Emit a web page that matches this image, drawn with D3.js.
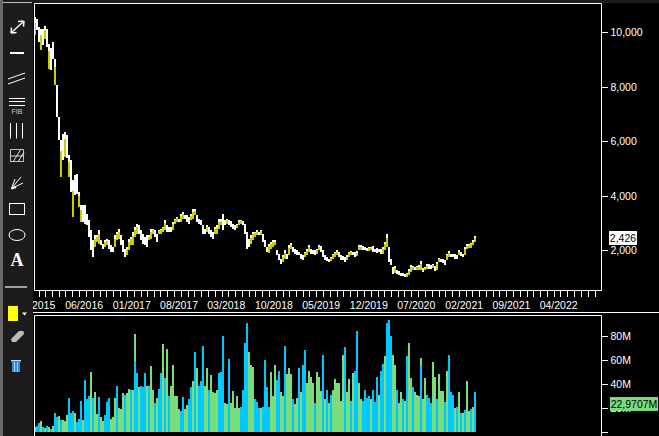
<!DOCTYPE html>
<html><head><meta charset="utf-8">
<style>html,body{margin:0;padding:0;background:#000;overflow:hidden}svg{display:block}text{font-family:"Liberation Sans",Arial,sans-serif}</style>
<script src="https://cdn.jsdelivr.net/npm/d3@7"></script>
</head><body><svg id="c" width="659" height="436"></svg>
<script>
const priceHigh=[
10560,10500,10200,10135,10135,10220,10135,9585,9440,9650,9035,8055,6895,6040,6280,6340,6220,
5485,5300,4570,4750,4815,4140,3650,3650,3650,3345,3100,2735,2370,2550,2550,2735,2370,2245,2370,2430,2370,2185,2125,
2550,2675,2795,2550,2370,2060,2125,2430,2490,2675,2855,2980,2920,2735,2610,2490,2550,2550,2795,2795,2735,2610,2735,
2795,2855,3100,2920,2855,2855,3040,3165,3225,3165,3345,3410,3285,3285,3225,3345,3530,3530,3285,3165,3100,2920,2795,
2920,2855,2735,2675,2855,2920,3165,
3160,3320,3100,3160,3100,3077,2980,2920,2980,3100,3125,3077,2980,2675,2430,2550,2675,2675,2735,2675,2760,2610,2370,
2125,2245,2305,2370,2370,2000,1880,1695,1820,2000,1880,2185,2270,2125,2060,2025,1940,1880,1820,1940,2060,2185,2060,
2000,2000,2060,2185,2147,2000,1820,1755,1695,1755,1880,1940,2000,1940,1820,1780,1755,1820,1940,1965,1940,1940,1965,
2185,2185,2147,2125,2100,2125,2125,2147,2060,2100,2060,2060,2125,2305,2610,2125,1695,1390,1415,1290,1240,1170,1170,
1145,1170,1330,1450,1415,1390,1415,1450,1610,1365,1390,1487,1487,1450,1487,1415,1575,1730,
1695,1695,1660,1880,1975,1880,1855,1855,1820,2000,1940,1880,2125,2220,2220,2270,2370,2515];
const priceLow=[
9890,10070,9650,9340,9525,9770,9460,8670,8600,9035,8055,6895,6040,4690,5305,5430,5370,
4690,4140,3225,4020,4080,3590,3040,3040,2980,2920,2490,2000,1755,2125,2305,2245,2185,2060,2125,2185,2060,1940,1940,
2125,2370,2430,2185,1940,1755,1820,2000,2185,2185,2490,2610,2610,2370,2245,2185,2125,2370,2430,2610,2490,2305,2610,
2610,2675,2735,2675,2675,2675,2735,2980,3040,3040,3040,3165,3165,3040,2980,3100,3165,3285,3040,2980,2920,2610,2610,
2675,2610,2490,2430,2610,2610,2795,
2920,2760,2920,2980,2920,2857,2795,2760,2830,2920,2980,2920,2610,2060,2125,2245,2370,2490,2550,2550,2550,2305,2125,
1940,1900,2060,2125,2185,1820,1635,1487,1575,1695,1695,1820,2060,1940,1880,1820,1820,1695,1635,1755,1820,1940,1880,
1880,1820,1880,2000,1940,1755,1635,1610,1575,1610,1695,1755,1820,1755,1635,1660,1575,1635,1755,1820,1820,1755,1780,
2000,2025,2025,2000,1965,1975,2000,1940,1940,1900,1940,1880,1880,2000,2125,1575,1450,1120,1170,1145,1080,1045,1045,
1020,1020,1080,1205,1290,1265,1290,1290,1290,1205,1265,1330,1330,1330,1365,1240,1265,1575,
1575,1535,1450,1660,1755,1755,1755,1695,1695,1820,1780,1755,1820,2060,2100,2100,2185,2305];
const earlyYellowBars=[0,3,5,7,10,13,15,17,19,22,23];
const greenVol=[
4,0,0,9,0,3,0,4,0,5, 0,0,13,0,10,9,14,0,0,0, 16,0,0,0,10,0,21,0,50,0, 33,15,0,12,9,0,0,0,11,12,
28,0,20,19,32,0,32,36,0,35, 82,0,37,0,0,0,38,0,55,35, 0,28,0,0,73,0,69,0,38,56, 30,30,19,0,0,19,22,0,0,42,
0,53,0,0,56,38,53,0,47,33, 32,35,0,
0,0,24,23,0,24,34,20,30,20, 0,0,0,0,67,56,54,0,0,0, 20,0,0,0,0,50,30,56,0,0, 33,30,0,48,53,48,0,23,28,0,
33,0,59,41,51,46,41,0,50,46, 34,0,27,0,24,0,35,44,41,41, 26,64,0,33,44,0,49,0,0,41, 27,0,0,0,0,27,0,0,0,31,
0,0,63,0,0,0,64,56,0,24, 33,0,26,0,74,45,0,33,31,30, 62,27,45,0,0,0,58,46,0,48,
34,34,0,51,0,0,0,20,0,33,0,16,0,42,17,0,21,23];
const blueVol=[
0,5,7,0,4,0,5,0,2,0, 16,12,0,10,0,0,0,28,16,17, 0,8,11,26,0,43,27,30,0,28, 0,0,29,0,0,14,25,28,0,0,
0,38,0,0,0,31,0,0,35,0, 59,49,0,38,37,49,0,38,0,0, 24,0,36,49,0,45,0,30,0,0, 0,0,0,17,29,0,0,27,37,0,
67,0,38,42,72,0,0,35,0,0, 0,0,49,
50,80,0,0,61,0,0,0,0,0, 21,35,74,91,0,0,0,27,25,20, 0,21,60,37,21,0,0,0,43,51, 0,0,72,0,0,0,27,0,0,53,
0,56,68,0,0,0,0,24,0,0, 0,64,0,35,0,31,0,0,0,0, 0,0,71,0,0,26,0,51,84,0, 0,26,35,28,30,0,35,25,46,0,
51,57,0,91,93,80,0,0,35,0, 0,27,0,63,0,0,37,0,0,0, 56,0,0,31,28,24,0,0,27,0,
0,0,25,0,64,33,31,0,21,0,16,0,18,0,0,19,0,33];
const priceTicks=[2000,4000,6000,8000,10000];
const volumeTicks=[0,20,40,60,80];
const monthStart="2015-11-01", monthEnd="2022-09-01";
const lastPrice="2,426", lastVolume="22,9707M";

const svg=d3.select("#c");
const L=34.5,R=601.5,T=3.5,B=290.5,VT=315.5;
svg.append("rect").attr("width",659).attr("height",436).attr("fill","#000");
svg.append("rect").attr("width",659).attr("height",3).attr("fill","#1c1c1c");

const idx=d3.range(priceHigh.length);
const xBand=d3.scaleBand().domain(idx).range([34.3,34.3+2*idx.length]);
const yP=d3.scaleLinear().domain([2000,10000]).range([250.3,32.3]);
const yV=d3.scaleLinear().domain([0,80]).range([431.7,336]);
const parse=d3.utcParse("%Y-%m-%d");
const xT=d3.scaleUtc().domain([parse(monthStart),parse(monthEnd)]).range([38.5,594.5]);
const months=d3.utcMonth.range(parse(monthStart),d3.utcMonth.offset(parse(monthEnd),1));

// candles: a yellow bar on rising weeks, white otherwise, with a white cap on the yellow ones
const mid=i=>(priceHigh[i]+priceLow[i])/2;
const isYellow=i=>i<24?earlyYellowBars.includes(i):mid(i)>mid(i-1);
const pri=svg.append("g").attr("shape-rendering","crispEdges");
pri.selectAll("rect.body").data(idx).join("rect").attr("class","body")
  .attr("x",i=>xBand(i)).attr("width",xBand.bandwidth())
  .attr("y",i=>yP(priceHigh[i])).attr("height",i=>Math.max(1,yP(priceLow[i])-yP(priceHigh[i])))
  .attr("fill",i=>isYellow(i)?"#cccc00":"#fff");
pri.selectAll("rect.cap").data(idx.filter(isYellow)).join("rect").attr("class","cap")
  .attr("x",i=>xBand(i)).attr("width",xBand.bandwidth())
  .attr("y",i=>yP(priceHigh[i])).attr("height",i=>(yP(priceLow[i])-yP(priceHigh[i]))*0.3)
  .attr("fill","#fff");

// volume
const vol=svg.append("g").attr("shape-rendering","crispEdges");
const drawVol=(arr,col)=>vol.append("g").selectAll("rect").data(idx.filter(i=>arr[i]>0)).join("rect")
  .attr("x",i=>xBand(i)).attr("width",xBand.bandwidth())
  .attr("y",i=>yV(arr[i])).attr("height",i=>yV(0)-yV(arr[i])).attr("fill",col);
drawVol(greenVol,"#7bdc7b");
drawVol(blueVol,"#00c8ff");

// frames
const line=(x1,y1,x2,y2,c="#fff",w=1)=>svg.append("line").attr("x1",x1).attr("y1",y1).attr("x2",x2).attr("y2",y2).attr("stroke",c).attr("stroke-width",w);
line(L,T,R,T);line(L,T,L,B);line(R,T,R,B);line(L,B,R,B);
line(33,312.5,659,312.5);
line(L,VT,R,VT);line(L,VT,L,436);line(R,VT,R,436);

// axes
const styleAxis=g=>{g.select(".domain").remove();g.selectAll("line").attr("stroke","#fff").attr("shape-rendering","crispEdges");
  g.selectAll("text").attr("fill","#fff").attr("font-size","10.5px");};
svg.append("g").attr("transform",`translate(${R},0)`)
  .call(d3.axisRight(yP).tickValues(priceTicks).tickSize(6).tickPadding(3).tickFormat(d3.format(","))).call(styleAxis);
svg.append("g").attr("transform",`translate(${R},0)`)
  .call(d3.axisRight(yV).tickValues(volumeTicks).tickSize(6).tickPadding(3).tickFormat(d=>d?d+"M":"")).call(styleAxis);
svg.append("g").attr("transform",`translate(0,${B})`)
  .call(d3.axisBottom(xT).tickValues(months).tickSize(6).tickFormat("")).call(styleAxis);
const fmtM=d3.utcFormat("%m/%Y");
svg.append("g").selectAll("text").data(months.filter((d,i)=>i%7===0)).join("text")
  .attr("x",d=>xT(d)-1.8).attr("y",309).attr("text-anchor","middle").attr("fill","#fff").attr("font-size","10.5px").text(fmtM);

// last value tags
svg.append("rect").attr("x",609).attr("y",231).attr("width",28).attr("height",14).attr("fill","#fff");
svg.append("text").attr("x",623).attr("y",242).attr("text-anchor","middle").attr("font-size","10.5px").attr("fill","#000").text(lastPrice);
svg.append("rect").attr("x",610).attr("y",397).attr("width",48).attr("height",14).attr("fill","#7bdc7b");
svg.append("text").attr("x",634).attr("y",408).attr("text-anchor","middle").attr("font-size","10.5px").attr("fill","#000").text(lastVolume);

// toolbar
const tb=svg.append("g");
tb.append("rect").attr("width",33).attr("height",436).attr("fill","#1c1c1c");
tb.append("rect").attr("width",3).attr("height",436).attr("fill","#6a6a6a");
tb.append("rect").attr("x",3).attr("y",2).attr("width",29).attr("height",1).attr("fill","#b8c0cc");
const tl=(x1,y1,x2,y2,w=1,c="#fff")=>tb.append("line").attr("x1",x1).attr("y1",y1).attr("x2",x2).attr("y2",y2).attr("stroke",c).attr("stroke-width",w);
tl(11.5,32.5,23.5,21.5,1.3);tl(23.5,21,18,21.5,1.5);tl(24,21,23.5,26.5,1.5);tl(11,33,16.5,32.5,1.5);tl(11,33,11.5,27.5,1.5);
tl(10,53,24,53,2);
tl(8,79,25,73,1);tl(8,84,25,78,1);
[98.5,101.5,105.5].forEach(y=>tl(9,y,25,y,1));
tb.append("text").attr("x",17).attr("y",114).attr("text-anchor","middle").attr("font-size","7px").attr("fill","#ccc").text("FIB");
[10.5,16.5,22.5].forEach(x=>tl(x,123,x,138.5,1));
tb.append("rect").attr("x",10.5).attr("y",149.5).attr("width",13).attr("height",12).attr("fill","none").attr("stroke","#bbb");
tl(13,162,21,149,1,"#ddd");tl(10,156,24,156,1,"#ddd");tl(18,162,24,152,1,"#ddd");
tl(11.5,188.5,15,179,1);tl(11.5,188.5,23,183,1);tl(11.5,188.5,21,177,1);tl(11.5,188.5,16,187,2);
tb.append("rect").attr("x",9.5).attr("y",203.5).attr("width",15).attr("height",11).attr("fill","none").attr("stroke","#fff");
tb.append("ellipse").attr("cx",17).attr("cy",235).attr("rx",8).attr("ry",5.5).attr("fill","none").attr("stroke","#fff");
tb.append("text").attr("x",17).attr("y",266).attr("text-anchor","middle").attr("font-size","18px").attr("font-weight","bold").attr("fill","#fff").style("font-family","'Liberation Serif',serif").text("A");
tl(5,287,27,287,1.5,"#ccd");
tb.append("rect").attr("x",8).attr("y",306).attr("width",10).attr("height",15).attr("fill","#ff0");
tb.append("path").attr("d","M22 312.5h5l-2.5 3z").attr("fill","#fff");
tb.append("path").attr("d","M11 339l8-8 4.5 0 .5 3-8 8-4 0z").attr("fill","#bbb");
tb.append("rect").attr("x",12).attr("y",362).attr("width",8).attr("height",10).attr("fill","#2f8fe8");
tb.append("rect").attr("x",11).attr("y",360).attr("width",10).attr("height",1.5).attr("fill","#c8d8f0");
[14,17].forEach(x=>tl(x+.5,362,x+.5,372,.6,"#dff"));
</script></body></html>
